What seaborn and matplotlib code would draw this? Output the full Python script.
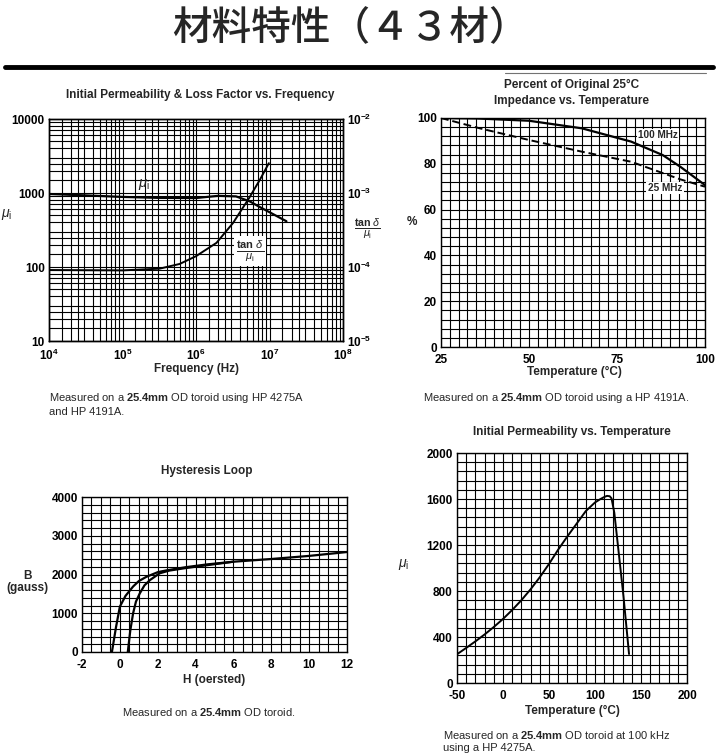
import matplotlib
matplotlib.use("Agg")
import matplotlib.pyplot as plt
from matplotlib.ticker import MultipleLocator, LogLocator, NullFormatter
import seaborn as sns
import pandas as pd
import numpy as np

# ---------------- data ----------------
# Chart 1: initial permeability & loss factor vs frequency
freq_mu = [1e4, 3e4, 1e5, 3e5, 1e6, 1.5e6, 2e6, 3.5e6, 5.4e6, 7.5e6, 1e7, 1.7e7]
mu_i = [970, 930, 885, 860, 855, 890, 915, 900, 770, 640, 550, 415]
freq_tan = [1e4, 1e5, 3.2e5, 6e5, 1e6, 1.9e6, 3.2e6, 5.3e6, 7.4e6, 9.8e6]
tan_mu = [9.1e-5, 9.0e-5, 9.5e-5, 1.1e-4, 1.4e-4, 2.12e-4, 3.95e-4, 8.6e-4, 1.51e-3, 2.53e-3]

# Chart 2: percent of original 25C impedance vs temperature
temp_100 = [25, 35, 50, 65, 79, 88, 93, 100]
z_100 = [100, 99.8, 98.8, 95.5, 89.7, 83.8, 78.7, 70.7]
temp_25 = [25, 36, 50, 65, 79, 93, 100]
z_25 = [100, 95.5, 90.4, 85.3, 80.9, 73.2, 70.0]

# Chart 3: hysteresis loop
h_upper = [-0.42, -0.2, 0.0, 0.3, 0.7, 1.0, 1.4, 2.0, 2.5, 3.5, 4.6, 6, 8, 10, 12]
b_upper = [0, 650, 1170, 1450, 1690, 1830, 1940, 2060, 2110, 2190, 2260, 2330, 2400, 2480, 2580]
h_lower = [0.42, 0.55, 0.7, 0.85, 1.05, 1.3, 1.6, 2.1, 2.6, 3.4, 4.6, 6]
b_lower = [0, 550, 1000, 1300, 1510, 1720, 1860, 2030, 2100, 2160, 2240, 2330]

# Chart 4: initial permeability vs temperature
temp_mu = [-50, -40, -30, -20, -10, 0, 10, 20, 30, 40, 50, 60, 70, 80, 90, 100, 106, 110, 113, 116,
           118, 121, 125, 131, 137]
mu_temp = [250, 305, 362, 422, 487, 557, 635, 720, 815, 920, 1035, 1160, 1275, 1385, 1495, 1570, 1600,
           1617, 1627, 1624, 1605, 1480, 1190, 750, 252]

# tick labels
freq_ticks = [1e4, 1e5, 1e6, 1e7, 1e8]
freq_labels = [r"$\mathbf{10^{4}}$", r"$\mathbf{10^{5}}$", r"$\mathbf{10^{6}}$", r"$\mathbf{10^{7}}$", r"$\mathbf{10^{8}}$"]
mu_ticks = [10, 100, 1000, 10000]
mu_labels = ["10", "100", "1000", "10000"]
tan_ticks = [1e-5, 1e-4, 1e-3, 1e-2]
tan_labels = [r"$\mathbf{10^{-5}}$", r"$\mathbf{10^{-4}}$", r"$\mathbf{10^{-3}}$", r"$\mathbf{10^{-2}}$"]

# ---------------- style ----------------
sns.set_theme(style="white")
plt.rcParams['font.family'] = ['Liberation Sans', 'Noto Sans CJK JP', 'DejaVu Sans']
plt.rcParams['mathtext.fontset'] = 'custom'
plt.rcParams['mathtext.rm'] = 'Liberation Sans'
plt.rcParams['mathtext.bf'] = 'Liberation Sans:bold'
plt.rcParams['mathtext.it'] = 'Liberation Sans:italic'
plt.rcParams['axes.edgecolor'] = 'black'
plt.rcParams['axes.linewidth'] = 1.0
plt.rcParams['axes.unicode_minus'] = False

W, H = 718, 756
fig = plt.figure(figsize=(W / 100, H / 100), dpi=100)
fig.patch.set_facecolor('white')


def P(x, y):
    return x / W, 1 - y / H


def add_ax(l, t, r, b):
    return fig.add_axes([l / W, 1 - b / H, (r - l) / W, (b - t) / H])


TICK_FS = 8.5
TITLE_FS = 8.5
CAP_FS = 8.0
GRID_KW = dict(color='black', linewidth=0.8)


def style_ax(ax):
    ax.set_facecolor('white')
    ax.tick_params(which='both', length=0, labelsize=TICK_FS, colors='black')
    ax.tick_params(axis='x', pad=5)
    ax.tick_params(axis='y', pad=3)
    for lab in ax.get_xticklabels() + ax.get_yticklabels():
        lab.set_fontweight('bold')
    for s in ax.spines.values():
        s.set_color('black')
        s.set_linewidth(1.0)
    ax.set_xlabel("")
    ax.set_ylabel("")


# ---------------- page title ----------------
fig.text(*P(350, 29), "材料特性（４３材）", ha='center', va='center', fontsize=28.5,
         family=['Noto Sans CJK JP', 'DejaVu Sans'], fontweight='medium')
fig.add_artist(plt.Line2D([5 / W, 713 / W], [1 - 67 / H, 1 - 67 / H], color='black', lw=3.5))
fig.add_artist(plt.Line2D([505 / W, 706 / W], [1 - 72.5 / H, 1 - 72.5 / H], color='0.45', lw=0.8))

# ---------------- chart 1 ----------------
ax1 = add_ax(49, 119, 343, 341)
sns.lineplot(x=freq_mu, y=mu_i, ax=ax1, color='black', lw=1.6)
ax1.set_xscale('log')
ax1.set_yscale('log')
ax1.set_xlim(1e4, 1e8)
ax1.set_ylim(10, 10000)
ax1.set_xticks(freq_ticks, freq_labels)
ax1.set_yticks(mu_ticks, mu_labels)
ax1.xaxis.set_minor_locator(LogLocator(base=10, subs=[1.5, 2, 2.5, 3, 4, 5, 6, 7, 8, 9], numticks=20))
ax1.yaxis.set_minor_locator(LogLocator(base=10, subs=[1.5, 2, 2.5, 3, 4, 5, 6, 7, 8, 9], numticks=20))
ax1.xaxis.set_minor_formatter(NullFormatter())
ax1.yaxis.set_minor_formatter(NullFormatter())
ax1.grid(which='both', **GRID_KW)
ax1.set_axisbelow(True)
style_ax(ax1)

ax1b = ax1.twinx()
sns.lineplot(x=freq_tan, y=tan_mu, ax=ax1b, color='black', lw=1.4)
ax1b.set_yscale('log')
ax1b.set_ylim(1e-5, 1e-2)
ax1b.set_yticks(tan_ticks, tan_labels)
ax1b.yaxis.set_minor_formatter(NullFormatter())
style_ax(ax1b)

fig.text(*P(200, 95), "Initial Permeability & Loss Factor vs. Frequency", ha='center', va='center',
         fontsize=TITLE_FS, fontweight='bold')
fig.text(*P(196, 369), "Frequency (Hz)", ha='center', va='center', fontsize=TITLE_FS, fontweight='bold')
fig.text(*P(7, 214), r"$\mu_\mathrm{i}$", ha='center', va='center', fontsize=10)
fig.text(*P(144, 184), r"$\mu_\mathrm{i}$", ha='center', va='center', fontsize=10.5)
fig.text(*P(367, 229), r"$\frac{\mathbf{tan}\ \delta}{\mu_\mathrm{i}}$", ha='center', va='center', fontsize=11)
fig.text(*P(250, 251), r"$\frac{\mathbf{tan}\ \delta}{\mu_\mathrm{i}}$", ha='center', va='center', fontsize=11.5,
         bbox=dict(facecolor='white', edgecolor='none', pad=1.5))
fig.text(*P(49, 398), r"Measured on a $\mathbf{25.4mm}$ OD toroid using HP 4275A", ha='left', va='center',
         fontsize=CAP_FS)
fig.text(*P(49, 412), "and HP 4191A.", ha='left', va='center', fontsize=CAP_FS)

# ---------------- chart 2 ----------------
ax2 = add_ax(441, 118, 705, 347)
sns.lineplot(x=temp_100, y=z_100, ax=ax2, color='black', lw=1.6)
sns.lineplot(x=temp_25, y=z_25, ax=ax2, color='black', lw=1.4, linestyle=(0, (4, 2)))
ax2.set_xlim(25, 100)
ax2.set_ylim(0, 100)
ax2.xaxis.set_major_locator(MultipleLocator(25))
ax2.yaxis.set_major_locator(MultipleLocator(20))
ax2.xaxis.set_minor_locator(MultipleLocator(2.5))
ax2.yaxis.set_minor_locator(MultipleLocator(4))
ax2.grid(which='both', **GRID_KW)
ax2.set_axisbelow(True)
style_ax(ax2)
fig.text(*P(572, 85), "Percent of Original 25°C", ha='center', va='center', fontsize=TITLE_FS, fontweight='bold')
fig.text(*P(572, 101), "Impedance vs. Temperature", ha='center', va='center', fontsize=TITLE_FS, fontweight='bold')
fig.text(*P(574, 372), "Temperature (°C)", ha='center', va='center', fontsize=TITLE_FS, fontweight='bold')
fig.text(*P(412, 222), "%", ha='center', va='center', fontsize=TITLE_FS, fontweight='bold')
fig.text(*P(658, 135), "100 MHz", ha='center', va='center', fontsize=7.2, fontweight='bold',
         bbox=dict(facecolor='white', edgecolor='none', pad=1))
fig.text(*P(665, 188), "25 MHz", ha='center', va='center', fontsize=7.2, fontweight='bold',
         bbox=dict(facecolor='white', edgecolor='none', pad=1))
fig.text(*P(423, 398), r"Measured on a $\mathbf{25.4mm}$ OD toroid using a HP 4191A.", ha='left', va='center',
         fontsize=CAP_FS)

# ---------------- chart 3 ----------------
ax3 = add_ax(82, 497, 347, 652)
sns.lineplot(x=h_upper, y=b_upper, ax=ax3, color='black', lw=1.6, sort=False)
sns.lineplot(x=h_lower, y=b_lower, ax=ax3, color='black', lw=1.6, sort=False)
ax3.set_xlim(-2, 12)
ax3.set_ylim(0, 4000)
ax3.xaxis.set_major_locator(MultipleLocator(2))
ax3.yaxis.set_major_locator(MultipleLocator(1000))
ax3.xaxis.set_minor_locator(MultipleLocator(0.5))
ax3.yaxis.set_minor_locator(MultipleLocator(200))
ax3.grid(which='both', **GRID_KW)
ax3.set_axisbelow(True)
style_ax(ax3)
fig.text(*P(207, 471), "Hysteresis Loop", ha='center', va='center', fontsize=TITLE_FS, fontweight='bold')
fig.text(*P(214, 680), "H (oersted)", ha='center', va='center', fontsize=TITLE_FS, fontweight='bold')
fig.text(*P(27, 582), "B\n(gauss)", ha='center', va='center', fontsize=TITLE_FS, fontweight='bold',
         linespacing=1.1)
fig.text(*P(209, 712), r"Measured on a $\mathbf{25.4mm}$ OD toroid.", ha='center', va='center', fontsize=CAP_FS)

# ---------------- chart 4 ----------------
ax4 = add_ax(457, 453, 687, 683)
sns.lineplot(x=temp_mu, y=mu_temp, ax=ax4, color='black', lw=1.4, sort=False)
ax4.set_xlim(-50, 200)
ax4.set_ylim(0, 2000)
ax4.xaxis.set_major_locator(MultipleLocator(50))
ax4.yaxis.set_major_locator(MultipleLocator(400))
ax4.xaxis.set_minor_locator(MultipleLocator(10))
ax4.yaxis.set_minor_locator(MultipleLocator(80))
ax4.grid(which='both', **GRID_KW)
ax4.set_axisbelow(True)
style_ax(ax4)
fig.text(*P(572, 432), "Initial Permeability vs. Temperature", ha='center', va='center', fontsize=TITLE_FS,
         fontweight='bold')
fig.text(*P(572, 711), "Temperature (°C)", ha='center', va='center', fontsize=TITLE_FS, fontweight='bold')
fig.text(*P(404, 565), r"$\mu_\mathrm{i}$", ha='center', va='center', fontsize=10)
fig.text(*P(443, 735), r"Measured on a $\mathbf{25.4mm}$ OD toroid at 100 kHz", ha='left', va='center',
         fontsize=CAP_FS)
fig.text(*P(443, 748), "using a HP 4275A.", ha='left', va='center', fontsize=CAP_FS)

fig.savefig("out.png", dpi=100, facecolor='white')
